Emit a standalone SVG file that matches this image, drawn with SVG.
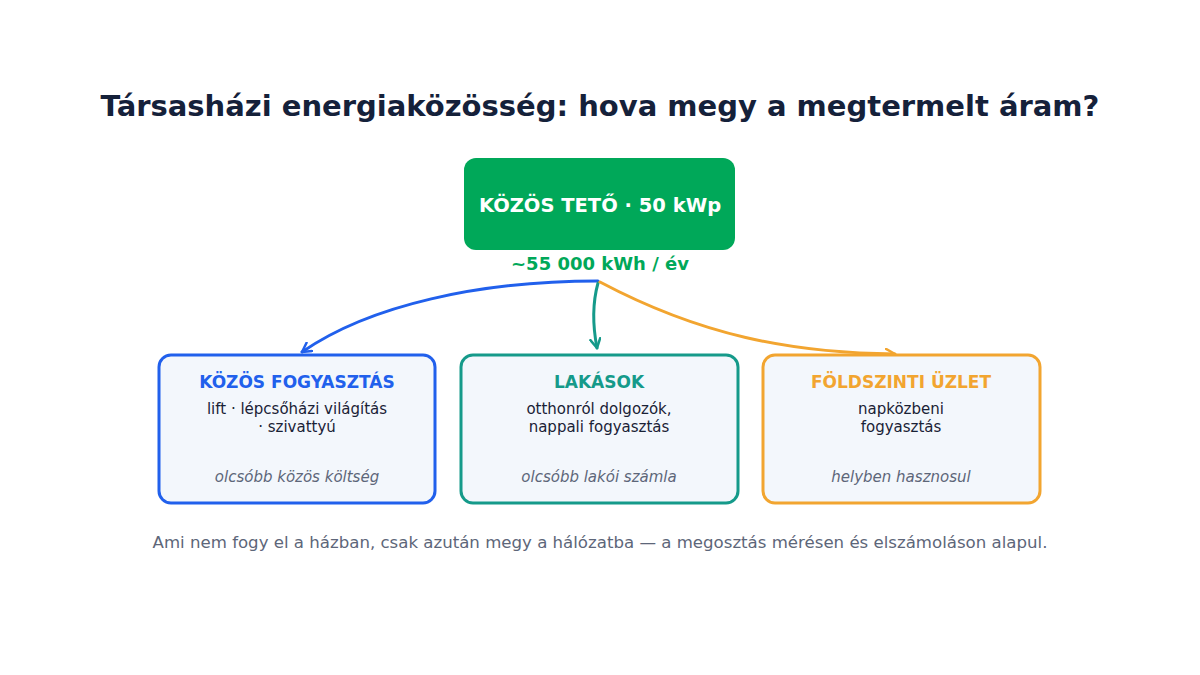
<svg xmlns="http://www.w3.org/2000/svg" width="1200" height="675" viewBox="0 0 1200 675">
<defs>
<style>
text{font-family:"DejaVu Sans","Liberation Sans",sans-serif;text-anchor:middle}
.title{font-size:29px;font-weight:bold;fill:#15213a}
.card{fill:#f3f7fc;stroke-width:3}
.h{font-size:17px;font-weight:bold}
.b{font-size:15px;fill:#1a2236}
.i{font-size:15px;font-style:italic;fill:#5d6679}
.foot{font-size:16.6px;fill:#5d6679}
.c{fill:none;stroke-width:3;stroke-linecap:round}
</style>
<marker id="mb" viewBox="0 0 12 12" refX="10" refY="6" markerWidth="12" markerHeight="12" markerUnits="userSpaceOnUse" orient="auto"><path d="M1,1 L10,6 L1,11" fill="none" stroke="#2160ec" stroke-width="2.5" stroke-linecap="round" stroke-linejoin="round"/></marker>
<marker id="mt" viewBox="0 0 12 12" refX="10" refY="6" markerWidth="12" markerHeight="12" markerUnits="userSpaceOnUse" orient="auto"><path d="M1,1 L10,6 L1,11" fill="none" stroke="#159a8a" stroke-width="2.5" stroke-linecap="round" stroke-linejoin="round"/></marker>
<marker id="mo" viewBox="0 0 12 12" refX="10" refY="6" markerWidth="12" markerHeight="12" markerUnits="userSpaceOnUse" orient="auto"><path d="M1,1 L10,6 L1,11" fill="none" stroke="#f2a530" stroke-width="2.5" stroke-linecap="round" stroke-linejoin="round"/></marker>
</defs>
<rect width="1200" height="675" fill="#ffffff"/>
<text class="title" x="600" y="116">Társasházi energiaközösség: hova megy a megtermelt áram?</text>
<g id="connectors">
<path class="c" stroke="#2160ec" d="M598,281 C480,281 370,305 302,352" marker-end="url(#mb)"/>
<path class="c" stroke="#159a8a" d="M598,283 Q590,312 597,348" marker-end="url(#mt)"/>
<path class="c" stroke="#f2a530" d="M600,282 C700,335 790,353 895,354" marker-end="url(#mo)"/>
</g>
<g id="roof">
<rect x="464" y="158" width="271" height="92" rx="12" fill="#00a859"/>
<text x="600" y="212" font-size="19.5" font-weight="bold" fill="#ffffff">KÖZÖS TETŐ · 50 kWp</text>
<text x="600" y="270" font-size="18" font-weight="bold" fill="#00a859">~55 000 kWh / év</text>
</g>
<g id="kozos">
<rect class="card" x="159" y="355" width="276" height="148" rx="12" stroke="#2160ec"/>
<text class="h" x="297" y="388" fill="#2160ec">KÖZÖS FOGYASZTÁS</text>
<text class="b" x="297" y="414">lift · lépcsőházi világítás</text>
<text class="b" x="297" y="432">· szivattyú</text>
<text class="i" x="297" y="482">olcsóbb közös költség</text>
</g>
<g id="lakasok">
<rect class="card" x="461" y="355" width="277" height="148" rx="12" stroke="#159a8a"/>
<text class="h" x="599" y="388" fill="#159a8a">LAKÁSOK</text>
<text class="b" x="599" y="414">otthonról dolgozók,</text>
<text class="b" x="599" y="432">nappali fogyasztás</text>
<text class="i" x="599" y="482">olcsóbb lakói számla</text>
</g>
<g id="uzlet">
<rect class="card" x="763" y="355" width="277" height="148" rx="12" stroke="#f2a530"/>
<text class="h" x="901" y="388" fill="#f2a530">FÖLDSZINTI ÜZLET</text>
<text class="b" x="901" y="414">napközbeni</text>
<text class="b" x="901" y="432">fogyasztás</text>
<text class="i" x="901" y="482">helyben hasznosul</text>
</g>
<text class="foot" x="600" y="548">Ami nem fogy el a házban, csak azután megy a hálózatba — a megosztás mérésen és elszámoláson alapul.</text>
</svg>
